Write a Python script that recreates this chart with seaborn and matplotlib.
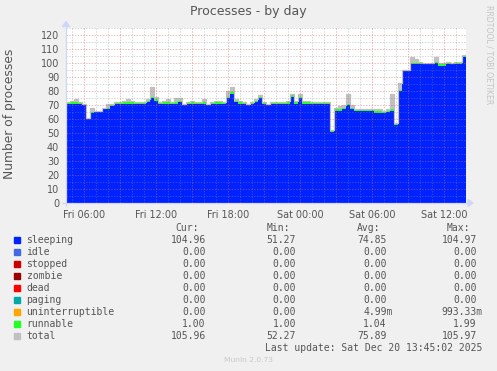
import numpy as np
import matplotlib
matplotlib.use("Agg")
import matplotlib.pyplot as plt
from matplotlib.lines import Line2D
from matplotlib.patches import Polygon
from matplotlib.ticker import FixedLocator
import seaborn as sns

# ---------------- data (20-minute buckets) ----------------
START_HOUR = 4.475          # Fri 04:28 (hours since Fri 00:00)
STEP_HOURS = 1 / 3          # 20 minutes per bucket

sleeping = [71, 71, 71, 71, 70, 60, 64, 65, 65, 67,
            67, 69, 71, 71, 71, 71, 71, 71, 71, 71,
            72, 75, 73, 71, 71, 71, 71, 71, 72, 70,
            71, 71, 71, 71, 71, 70, 71, 71, 71, 71,
            75, 78, 72, 71, 71, 70, 71, 72, 75, 71,
            70, 71, 71, 71, 71, 71, 76, 71, 75, 71,
            71, 71, 71, 71, 71, 71, 51, 66, 66, 67,
            70, 67, 66, 66, 66, 66, 66, 64, 64, 64,
            65, 66, 56, 80, 94, 94, 99, 99, 99, 99,
            99, 99, 100, 98, 98, 99, 99, 99, 99, 104]

runnable = [1, 1, 1, 1, 1, 1, 1, 1, 1, 1,
            1, 1, 1, 1, 1, 1, 1, 1, 1, 1,
            1, 1, 1, 1, 1, 1, 1, 1, 1, 1,
            1, 1, 1, 1, 1, 1, 1, 1, 1, 1,
            1, 1, 1, 1, 1, 1, 1, 1, 1, 1,
            1, 1, 1, 1, 1, 1, 1, 1, 1, 1,
            1, 1, 1, 1, 1, 1, 1, 1, 1, 1,
            1, 1, 1, 1, 1, 1, 1, 2, 2, 1,
            1, 1, 1, 1, 1, 1, 1, 1, 1, 1,
            1, 1, 1, 1, 1, 1, 1, 1, 1, 1]

total = [72, 73, 74, 72, 71, 61, 68, 66, 66, 68,
         71, 71, 72, 72, 73, 74, 73, 72, 72, 72,
         74, 83, 76, 72, 73, 74, 72, 75, 75, 71,
         72, 73, 72, 72, 74, 71, 72, 73, 73, 72,
         80, 83, 74, 73, 72, 71, 72, 74, 77, 72,
         71, 72, 72, 72, 72, 73, 78, 73, 78, 73,
         73, 72, 72, 72, 72, 72, 52, 68, 69, 70,
         78, 70, 67, 67, 67, 67, 67, 67, 67, 66,
         67, 78, 57, 86, 95, 95, 104, 103, 101, 100,
         100, 100, 104, 100, 100, 101, 100, 101, 101, 106]

tick_hours = [6, 12, 18, 24, 30, 36]
tick_labels = ["Fri 06:00", "Fri 12:00", "Fri 18:00", "Sat 00:00", "Sat 06:00", "Sat 12:00"]
y_ticks = [0, 10, 20, 30, 40, 50, 60, 70, 80, 90, 100, 110, 120]

legend_names = ["sleeping", "idle", "stopped", "zombie", "dead", "paging",
                "uninterruptible", "runnable", "total"]
legend_colors = ["#0022ff", "#4169e1", "#cc0000", "#990000", "#ff0000", "#00aaaa",
                 "#ffa500", "#22ff22", "#c0c0c0"]
cur_vals = ["104.96", "0.00", "0.00", "0.00", "0.00", "0.00", "0.00", "1.00", "105.96"]
min_vals = ["51.27", "0.00", "0.00", "0.00", "0.00", "0.00", "0.00", "1.00", "52.27"]
avg_vals = ["74.85", "0.00", "0.00", "0.00", "0.00", "0.00", "4.99m", "1.04", "75.89"]
max_vals = ["104.97", "0.00", "0.00", "0.00", "0.00", "0.00", "993.33m", "1.99", "105.97"]

# ---------------- figure ----------------
sns.set_style("white")
plt.rcParams["font.family"] = ["DejaVu Sans"]

W, H = 497, 371
fig = plt.figure(figsize=(W / 100, H / 100), dpi=100, facecolor="#F0F0F0")

def fx(x):
    return x / W

def fy(y):
    return 1 - y / H

L, R, T, B = 66, 466, 28, 203
ax = fig.add_axes([fx(L), fy(B), (R - L) / W, (B - T) / H])
ax.set_facecolor("white")
for sp in ax.spines.values():
    sp.set_visible(False)

n = len(sleeping)
edges = START_HOUR + STEP_HOURS * np.arange(n + 1)

def ext(a):
    a = np.asarray(a, float)
    return np.append(a, a[-1])

s = ext(sleeping)
r = ext(runnable)
t = ext(total)
top = s + r

ax.fill_between(edges, 0, s, step="post", color="#0022ff", lw=0, zorder=2)
ax.fill_between(edges, s, top, step="post", color="#22ff22", lw=0, zorder=2)
ax.fill_between(edges, top, np.maximum(t, top), step="post", color="#c0c0c0", lw=0, zorder=2)
sns.lineplot(x=edges, y=t, drawstyle="steps-post", color="#c0c0c0", lw=0.9,
             ax=ax, estimator=None, zorder=3)

x0, x1 = START_HOUR, START_HOUR + STEP_HOURS * n
ax.set_xlim(x0, x1)
ax.set_ylim(0, 125)

# grid (drawn over the data, like rrdtool)
dot = (0, (1.4, 1.4))
red_c, red_a = "#d06a6a", 0.45
gry_c, gry_a = "#8c8c8c", 0.35
for v in range(5, 126, 5):
    if v % 10 == 0:
        ax.axhline(v, color=red_c, alpha=red_a, lw=0.72, ls=dot, zorder=4)
    else:
        ax.axhline(v, color=gry_c, alpha=gry_a, lw=0.72, ls=dot, zorder=4)
for h in range(5, 38):
    if h % 3 == 0:
        ax.axvline(h, color=red_c, alpha=red_a, lw=0.72, ls=dot, zorder=4)
    else:
        ax.axvline(h, color=gry_c, alpha=gry_a, lw=0.72, ls=dot, zorder=4)

# ticks: labelled ones plus short tick stubs outside the canvas
major_x = list(range(6, 37, 3))
ax.set_xticks(major_x)
ax.set_xticklabels([tick_labels[tick_hours.index(h)] if h in tick_hours else "" for h in major_x])
ax.set_yticks(y_ticks)
ax.set_yticklabels([str(v) for v in y_ticks])
ax.yaxis.set_minor_locator(FixedLocator([v for v in range(5, 125, 10)]))
ax.xaxis.set_minor_locator(FixedLocator([h for h in range(5, 38) if h % 3 != 0]))
ax.tick_params(axis="both", which="major", length=2.5, width=0.72, color="#e8b4b4",
               labelsize=6.9, labelcolor="#555555", direction="out")
ax.tick_params(axis="both", which="minor", length=2.5, width=0.72, color="#d8d8d8",
               direction="out")
ax.tick_params(axis="x", which="major", pad=2.2)
ax.tick_params(axis="y", which="major", pad=2.4)
ax.set_xlabel("")
ax.set_ylabel("")

# axes lines and arrows
axc = "#CFD6F8"
fig.add_artist(Line2D([fx(62), fx(469)], [fy(203), fy(203)], color=axc, lw=0.9,
                      transform=fig.transFigure, zorder=6))
fig.add_artist(Line2D([fx(66), fx(66)], [fy(206), fy(25)], color=axc, lw=0.9,
                      transform=fig.transFigure, zorder=6))
fig.add_artist(Polygon([[fx(468), fy(199.5)], [fx(468), fy(206.5)], [fx(473), fy(203)]],
                       closed=True, color=axc, transform=fig.transFigure, zorder=6))
fig.add_artist(Polygon([[fx(62.5), fy(26.5)], [fx(69.5), fy(26.5)], [fx(66), fy(21.5)]],
                       closed=True, color=axc, transform=fig.transFigure, zorder=6))

# titles
fig.text(fx(248), fy(11), "Processes - by day", ha="center", va="center",
         fontsize=9, color="#555555")
fig.text(fx(10), fy(114), "Number of processes", ha="center", va="center",
         rotation=90, fontsize=8.8, color="#555555")
fig.text(fx(489), fy(5), "RRDTOOL / TOBI OETIKER", ha="center", va="top",
         rotation=270, fontsize=5.6, color="#c4c4c4")

# legend
mono = "DejaVu Sans Mono"
lfs = 7.0
lcol = "#555555"
hdr_y = 227.7
for name, xr in [("Cur:", 199), ("Min:", 290), ("Avg:", 380), ("Max:", 470)]:
    fig.text(fx(xr), fy(hdr_y), name, ha="right", va="center", family=mono,
             fontsize=lfs, color=lcol)

col_right = [205.7, 296, 386.7, 476.7]
char_w = 5.9
row0, dy = 240, 11.95
for i, name in enumerate(legend_names):
    yc = row0 + i * dy
    fig.add_artist(Polygon([[fx(14), fy(yc - 3)], [fx(20), fy(yc - 3)],
                            [fx(20), fy(yc + 3)], [fx(14), fy(yc + 3)]],
                           closed=True, color=legend_colors[i], transform=fig.transFigure))
    fig.text(fx(26.5), fy(yc), name, ha="left", va="center", family=mono,
             fontsize=lfs, color=lcol)
    for col, vals in enumerate([cur_vals, min_vals, avg_vals, max_vals]):
        v = vals[i]
        xr = col_right[col] + (char_w if v.endswith("m") else 0)
        fig.text(fx(xr), fy(yc), v, ha="right", va="center", family=mono,
                 fontsize=lfs, color=lcol)

fig.text(fx(482.7), fy(row0 + 9 * dy), "Last update: Sat Dec 20 13:45:02 2025",
         ha="right", va="center", family=mono, fontsize=lfs, color=lcol)
fig.text(fx(248), fy(360), "Munin 2.0.73", ha="center", va="center",
         fontsize=5.4, color="#c8c8c8")

fig.savefig("out.png", dpi=100, facecolor=fig.get_facecolor())
